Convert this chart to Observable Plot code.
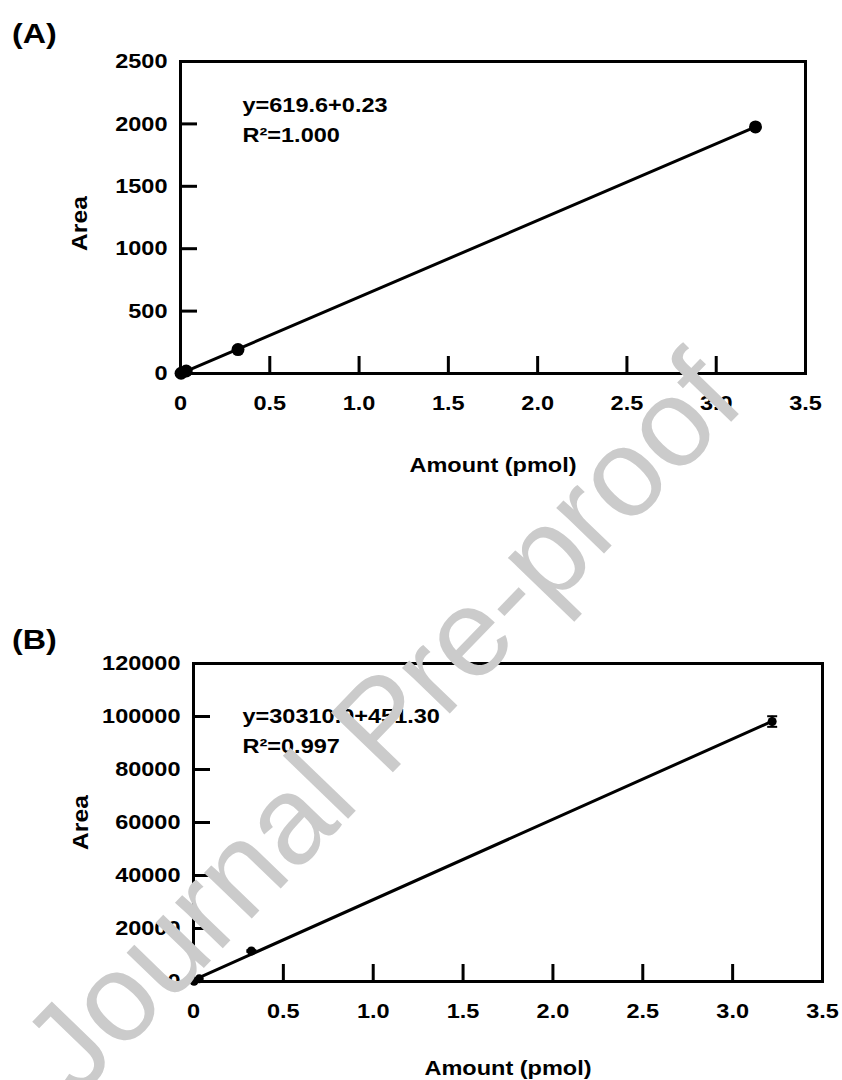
<!DOCTYPE html>
<html><head><meta charset="utf-8">
<script src="https://cdn.jsdelivr.net/npm/d3@7"></script>
<script src="https://cdn.jsdelivr.net/npm/@observablehq/plot@0.6"></script>
<style>
body{margin:0;background:#fff;font-family:"Liberation Sans",Arial,sans-serif;}
#page{position:relative;width:842px;height:1080px;overflow:hidden;background:#fff;}
.panel-label{position:absolute;z-index:5;left:12px;font-weight:bold;font-size:28px;line-height:32px;transform:scaleX(1.15);transform-origin:left center;color:#000;}
.chart{position:absolute;left:0;z-index:1;}
.watermark{position:absolute;z-index:10;left:381px;top:722px;transform:translate(-50%,-50%) rotate(-46deg);font-family:"Liberation Sans",Arial,sans-serif;font-size:125px;line-height:1;white-space:nowrap;color:#cbcbcb;pointer-events:none;}
</style></head><body><div id="page">
<div class="chart" id="ca" style="top:30px"></div>
<div class="chart" id="cb" style="top:630px"></div>
<div class="panel-label" style="top:18px">(A)</div>
<div class="panel-label" style="top:624px">(B)</div>
<div class="watermark">Journal Pre-proof</div>
</div>
<script>
// ---- data ----
const amountsA = [0.0032, 0.032, 0.322, 3.22];
const areasA = [2, 20, 192, 1976];
const amountsB = [0.0032, 0.032, 0.322, 3.22];
const areasB = [100, 1000, 11500, 98100];
const errorsB = [0, 0, 300, 2000];
const xTicks = [0, 0.5, 1, 1.5, 2, 2.5, 3, 3.5];
const yTicksA = [0, 500, 1000, 1500, 2000, 2500];
const yTicksB = [0, 20000, 40000, 60000, 80000, 100000, 120000];
const equationA = ["y=619.6+0.23", "R²=1.000"];
const equationB = ["y=30310.0+451.30", "R²=0.997"];
const xTitle = "Amount (pmol)";
const yTitle = "Area";

const SX = 1.12; // horizontal stretch of the reference's lettering
const FS = 21;
const fmtX = d => d === 0 ? "0" : d.toFixed(1);
const fmtY = d => String(d);
const capSymbol = {draw(ctx, size) { const w = Math.sqrt(size / Math.PI); ctx.moveTo(-w, 0); ctx.lineTo(w, 0); }};

function panel(o) {
  const data = o.amounts.map((a, i) => ({amount: a, area: o.areas[i], err: o.errors ? o.errors[i] : 0}));
  const marks = [
    Plot.linearRegressionY(data, {x: "amount", y: "area", ci: 0, stroke: "black", strokeWidth: 3}),
  ];
  if (o.errors) {
    const eb = data.filter(d => d.err > 0);
    marks.push(
      Plot.ruleX(eb, {x: "amount", y1: d => d.area - d.err, y2: d => d.area + d.err, stroke: "black", strokeWidth: 2}),
      Plot.dot(eb, {x: "amount", y: d => d.area - d.err, symbol: capSymbol, r: 5, stroke: "black", strokeWidth: 2, fill: "none"}),
      Plot.dot(eb, {x: "amount", y: d => d.area + d.err, symbol: capSymbol, r: 5, stroke: "black", strokeWidth: 2, fill: "none"})
    );
  }
  marks.push(
    Plot.dot(data, {x: "amount", y: "area", r: o.r, fill: "black", stroke: "none"}),
    Plot.frame({stroke: "black", strokeWidth: 3}),
    Plot.axisX({ticks: xTicks, tickFormat: fmtX, tickSize: -17, tickPadding: 39, strokeWidth: 3, label: null, fontSize: FS, fontWeight: "bold", fill: "black"}),
    Plot.axisY({ticks: o.yTicks, tickFormat: fmtY, tickSize: -17, tickPadding: 30, strokeWidth: 3, label: null, fontSize: FS, fontWeight: "bold", fill: "black"}),
    Plot.text([xTitle], {text: d => d, frameAnchor: "bottom", dy: o.xTitleDy, lineAnchor: "middle", fontSize: FS, fontWeight: "bold", fill: "black"}),
    Plot.text([yTitle], {text: d => d, frameAnchor: "left", dx: o.yTitleDx, dy: o.yTitleDy, rotate: -90, textAnchor: "middle", lineAnchor: "middle", fontSize: 22, fontWeight: "bold", fill: "black"}),
    Plot.text([o.eq.join("\n")], {text: d => d, frameAnchor: "top-left", dx: o.eqDx, dy: o.eqDy, textAnchor: "start", lineAnchor: "top", lineHeight: 1.4, fontSize: FS, fontWeight: "bold", fill: "black"})
  );
  return Plot.plot({
    width: 842, height: o.height,
    marginTop: o.mt, marginBottom: o.mb, marginLeft: o.ml, marginRight: o.mr,
    x: {domain: [0, 3.5]},
    y: {domain: [0, o.yMax]},
    style: {fontFamily: '"Liberation Sans", Arial, sans-serif', background: "white", color: "black", overflow: "visible"},
    marks
  });
}

// widen the lettering like the reference, around each text's own anchor point
function stretch(svg) {
  const NS = "http://www.w3.org/2000/svg";
  Array.from(svg.querySelectorAll("text")).forEach(t => {
    const parent = t.parentNode;
    const ctm = parent.getScreenCTM();
    if (!ctm) return;
    const r = t.getBoundingClientRect();
    const rotated = /rotate/.test(t.getAttribute("transform") || "");
    const anchor = getComputedStyle(t).textAnchor;
    let sx, sy;
    if (rotated) { sx = r.left + r.width / 2; sy = r.top + r.height / 2; }
    else {
      sx = anchor === "end" ? r.right : anchor === "middle" ? r.left + r.width / 2 : r.left;
      sy = r.top;
    }
    let p = svg.createSVGPoint(); p.x = sx; p.y = sy;
    p = p.matrixTransform(ctm.inverse());
    const g = document.createElementNS(NS, "g");
    g.setAttribute("transform", rotated
      ? `translate(0,${p.y}) scale(1,${SX}) translate(0,${-p.y})`
      : `translate(${p.x},0) scale(${SX},1) translate(${-p.x},0)`);
    parent.insertBefore(g, t);
    g.appendChild(t);
  });
}

const svgA = panel({
  amounts: amountsA, areas: areasA, yTicks: yTicksA, yMax: 2500, eq: equationA,
  height: 460, mt: 31, mb: 117, ml: 180, mr: 37, r: 6.5,
  xTitleDy: 92, yTitleDx: -101, yTitleDy: 6, eqDx: 62, eqDy: 30
});
document.getElementById("ca").append(svgA);
stretch(svgA);
const svgB = panel({
  amounts: amountsB, areas: areasB, errors: errorsB, yTicks: yTicksB, yMax: 120000, eq: equationB,
  height: 450, mt: 33, mb: 99, ml: 193, mr: 20, r: 4.5,
  xTitleDy: 87, yTitleDx: -113, yTitleDy: 0, eqDx: 49, eqDy: 39
});
document.getElementById("cb").append(svgB);
stretch(svgB);
</script>
</body></html>
